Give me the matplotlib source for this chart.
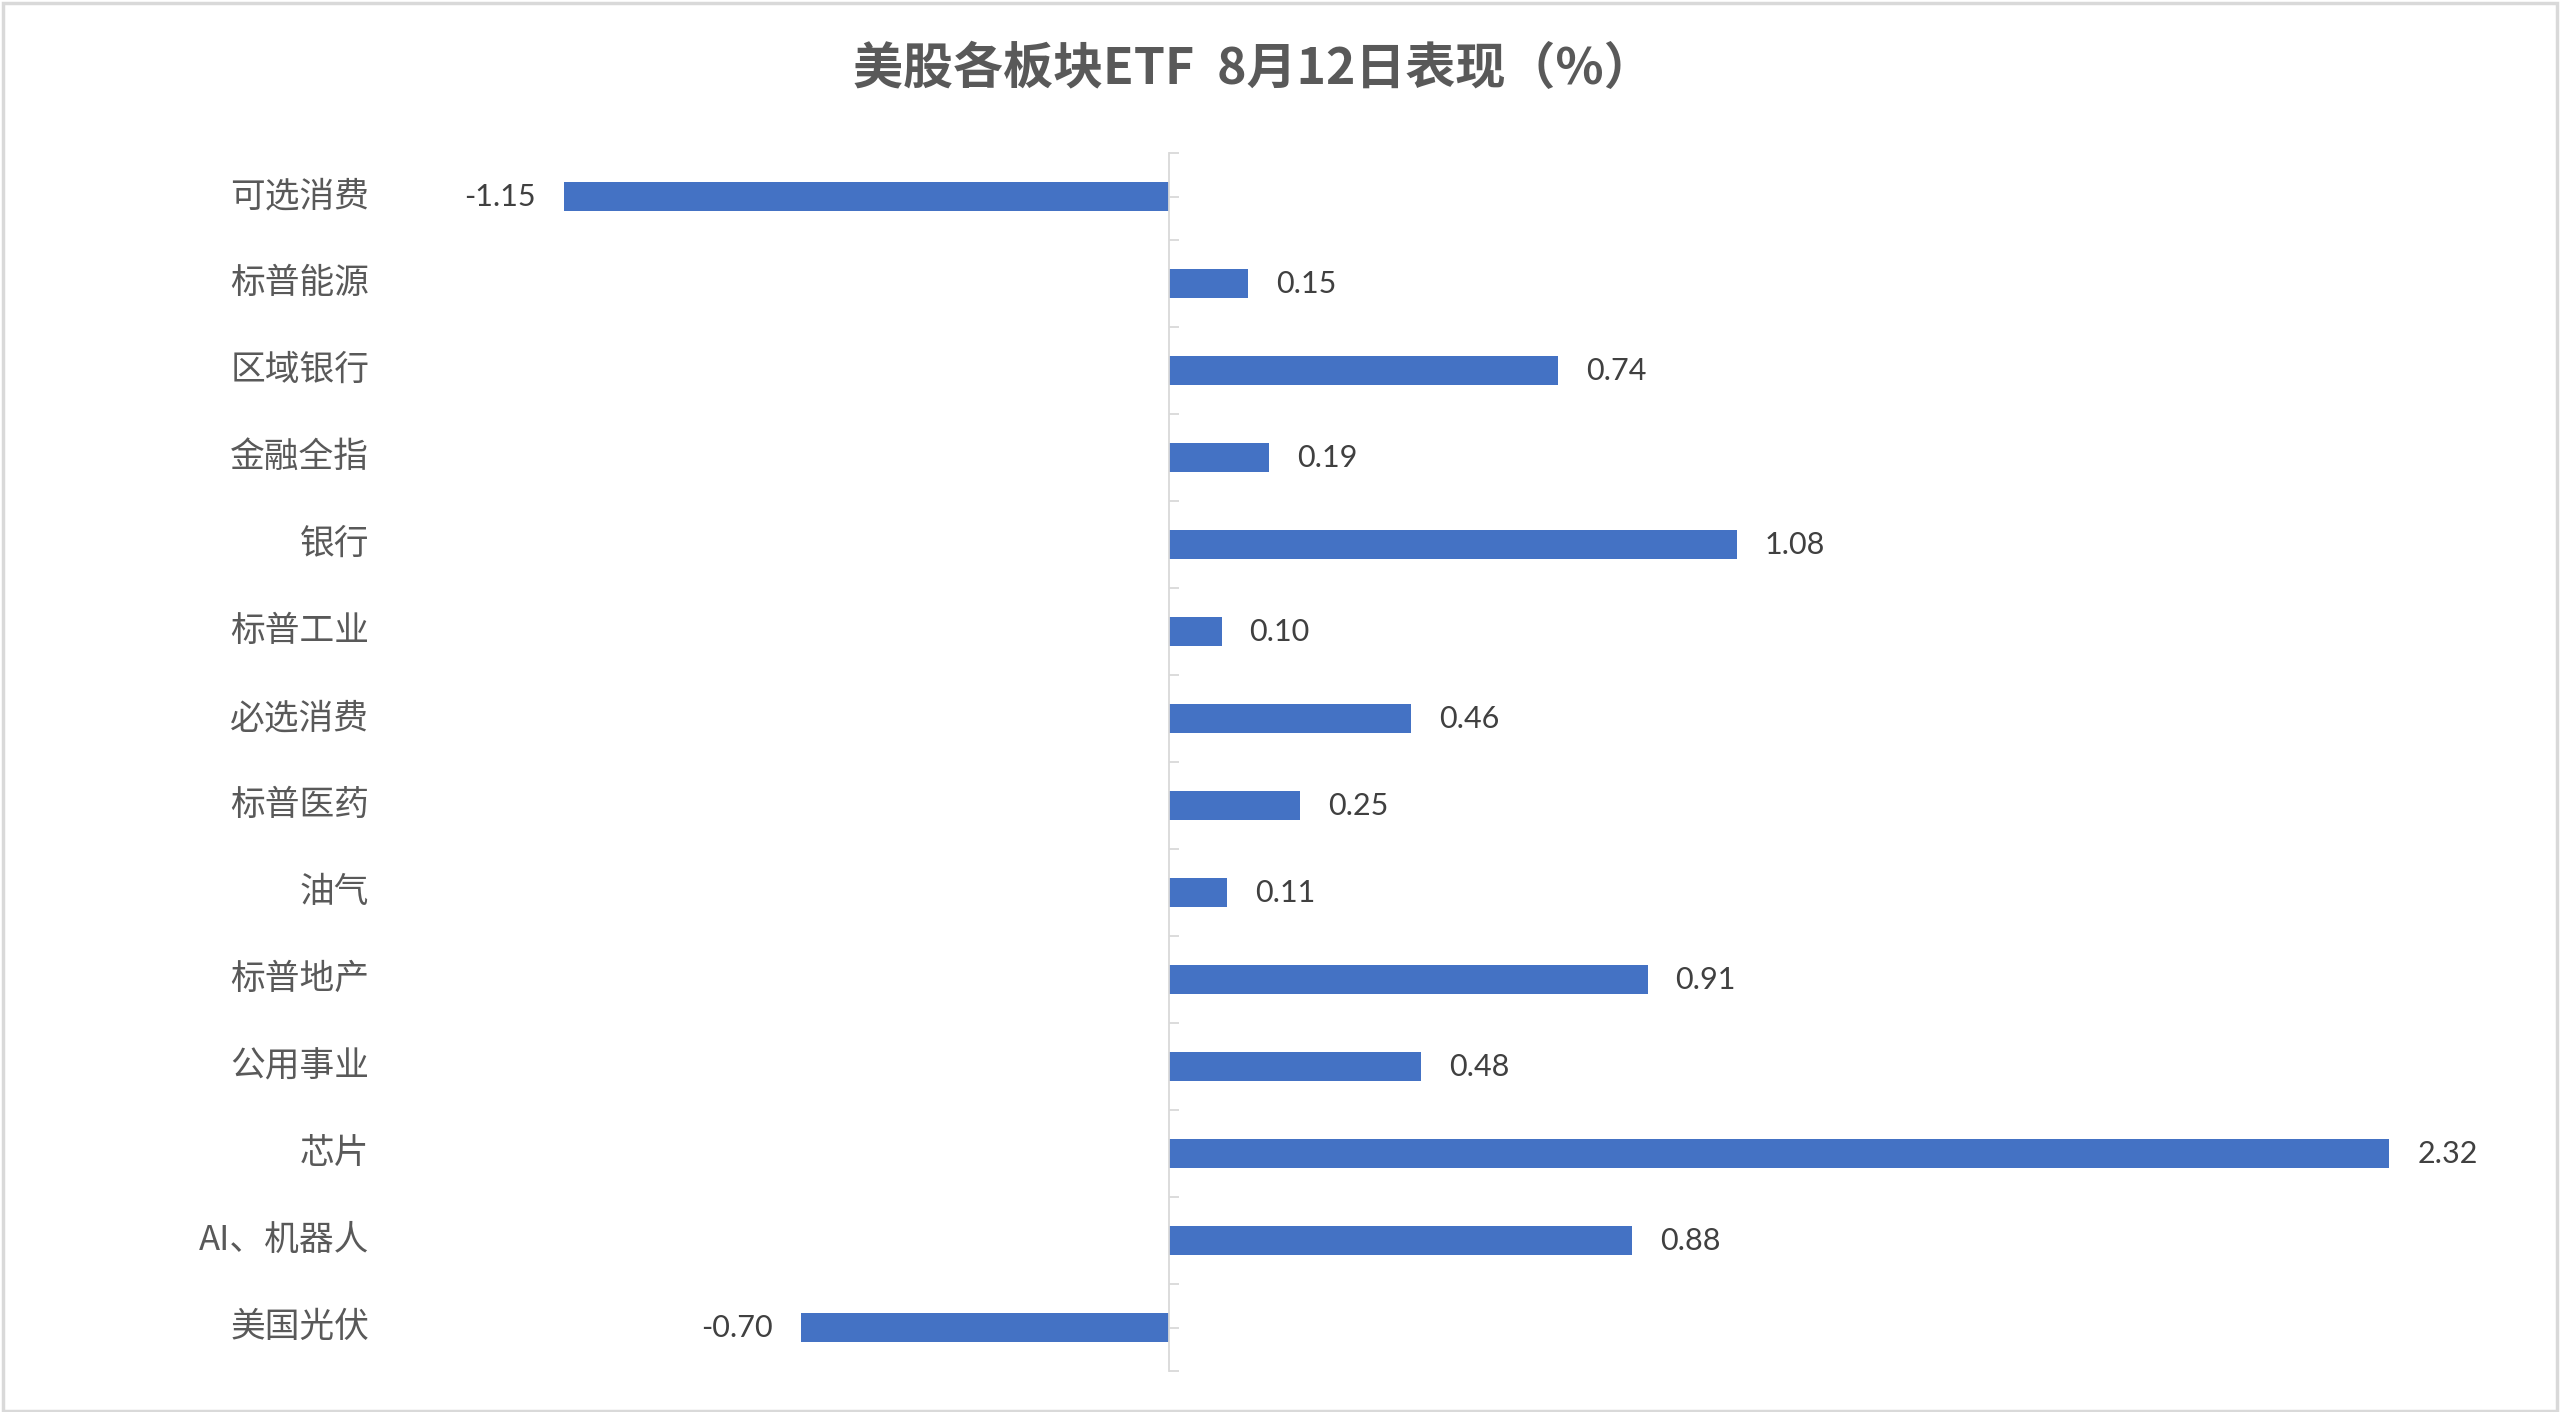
import matplotlib
matplotlib.use("Agg")
import matplotlib.pyplot as plt
from matplotlib.patches import Rectangle
import numpy as np

plt.rcParams["font.family"] = ["Noto Sans CJK SC", "DejaVu Sans"]

# ── 数据 ─────────────────────────────────────────────
title = "美股各板块ETF  8月12日表现（%）"
categories = ["可选消费", "标普能源", "区域银行", "金融全指", "银行", "标普工业",
              "必选消费", "标普医药", "油气", "标普地产", "公用事业", "芯片",
              "AI、机器人", "美国光伏"]
values = [-1.15, 0.15, 0.74, 0.19, 1.08, 0.10, 0.46, 0.25, 0.11, 0.91,
          0.48, 2.32, 0.88, -0.70]

BAR = "#4472C4"
GRID = "#D9D9D9"

fig = plt.figure(figsize=(25.6, 14.12), dpi=100)
ax = fig.add_axes([0.1484, 0.0290, 0.9703 - 0.1484, 0.8915 - 0.0290])

y = np.arange(len(categories))
ax.barh(y, values, height=0.34, color=BAR, zorder=2)

ax.set_xlim(-1.5, 2.5)
ax.set_ylim(len(categories) - 0.5, -0.5)

# 轴线只保留 0 处的竖线
for s in ["top", "right", "bottom"]:
    ax.spines[s].set_visible(False)
ax.spines["left"].set_position(("data", 0))
ax.spines["left"].set_color(GRID)
ax.spines["left"].set_linewidth(1.3)
ax.set_xticks([])
ax.set_yticks(np.arange(len(categories) + 1) - 0.5)
ax.set_yticks(y, minor=True)
ax.tick_params(axis="y", which="both", direction="in", length=7, width=1.3,
               color=GRID, labelleft=False)
for t in ax.yaxis.get_minorticklines():
    t.set_zorder(3)

# 分类标签放在绘图区左侧
for yi, name in zip(y, categories):
    ax.text(-1.52, yi, name, ha="right", va="center", fontsize=25,
            color="#595959")

# 数据标签
for yi, v in zip(y, values):
    if v >= 0:
        ax.text(v + 0.053, yi, f"{v:.2f}", ha="left", va="center",
                fontsize=22, color="#404040", family=["Lato", "DejaVu Sans"])
    else:
        ax.text(v - 0.053, yi, f"{v:.2f}", ha="right", va="center",
                fontsize=22, color="#404040", family=["Lato", "DejaVu Sans"])

fig.text(0.4895, 0.951, title, ha="center", va="center", fontsize=36,
         fontweight="bold", color="#595959")

# 外框
fig.patches.append(Rectangle((0.001, 0.001), 0.998, 0.997, transform=fig.transFigure,
                             fill=False, edgecolor=GRID, linewidth=2.5))

fig.savefig("out.png", dpi=100)
